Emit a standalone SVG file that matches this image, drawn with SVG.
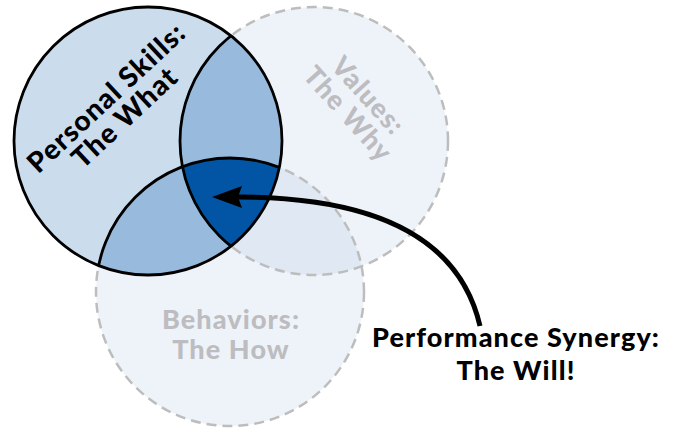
<svg xmlns="http://www.w3.org/2000/svg" width="673" height="431" viewBox="0 0 673 431">
<style>
.light{fill:#eef3f9}
.dash{fill:none;stroke:#bdbdbd;stroke-width:2.5;stroke-dasharray:10 6}
.solid{fill:none;stroke:#000;stroke-width:2.8}
.lbl{font-family:Lato,"Open Sans","Liberation Sans",sans-serif;font-weight:900;text-anchor:middle;letter-spacing:1.1px}
.black{fill:#000}
.gray{fill:#bdbdc1}
</style>
<defs>
<clipPath id="c1"><circle cx="148" cy="141" r="134"/></clipPath>
<clipPath id="c2"><circle cx="314" cy="141" r="134"/></clipPath>
<marker id="ah" markerUnits="userSpaceOnUse" markerWidth="30" markerHeight="24" viewBox="0 0 30 24" refX="4" refY="12" orient="auto"><path d="M30,12 L0,1 L4,12 L0,23 Z" fill="#000"/></marker>
</defs>
<g id="node-values">
<circle class="light" cx="314" cy="141" r="134"/>
</g>
<g id="node-behaviors">
<circle class="light" cx="230" cy="292" r="134"/>
</g>
<g id="overlap-values-behaviors">
<circle cx="230" cy="292" r="134" fill="#dfe8f3" clip-path="url(#c2)"/>
<circle class="dash" cx="314" cy="141" r="134"/>
<circle class="dash" cx="230" cy="292" r="134"/>
</g>
<g id="node-skills">
<circle cx="148" cy="141" r="134" fill="#cbdcec"/>
<g clip-path="url(#c1)">
<circle cx="314" cy="141" r="134" fill="#98badc"/>
<circle cx="230" cy="292" r="134" fill="#98badc"/>
<circle cx="230" cy="292" r="134" fill="#0254a4" clip-path="url(#c2)"/>
<circle class="solid" cx="314" cy="141" r="134"/>
<circle class="solid" cx="230" cy="292" r="134"/>
</g>
<circle class="solid" cx="148" cy="141" r="134"/>
<g transform="translate(115,107) rotate(-43)">
<text class="lbl black" x="0" y="-3" font-size="28">Personal Skills:</text>
<text class="lbl black" x="0" y="24" font-size="28">The What</text>
</g>
</g>
<g id="label-values" transform="translate(359,104) rotate(48)">
<text class="lbl gray" x="0" y="-3" font-size="27">Values:</text>
<text class="lbl gray" x="0" y="24" font-size="27">The Why</text>
</g>
<g id="label-behaviors">
<text class="lbl gray" x="231" y="329" font-size="27">Behaviors:</text>
<text class="lbl gray" x="231" y="359" font-size="27">The How</text>
</g>
<g id="connectors">
<path d="M480,326 C460,240 380,197 238,197" fill="none" stroke="#000" stroke-width="5" marker-end="url(#ah)"/>
</g>
<g id="node-synergy">
<text class="lbl black" x="516" y="347" font-size="27">Performance Synergy:</text>
<text class="lbl black" x="516" y="380" font-size="27">The Will!</text>
</g>
</svg>
